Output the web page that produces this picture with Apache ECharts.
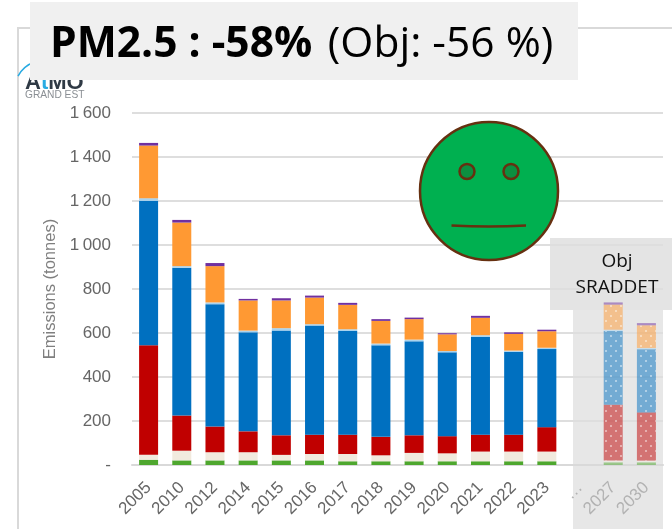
<!DOCTYPE html>
<html>
<head>
<meta charset="utf-8">
<script src="https://cdn.jsdelivr.net/npm/echarts@6/dist/echarts.min.js"></script>
<style>
  html, body { margin: 0; padding: 0; background: #fff; }
  #chart { width: 672px; height: 529px; }
</style>
</head>
<body>
<div id="chart"></div>
<script>
const years = ['2005', '2010', '2012', '2014', '2015', '2016', '2017', '2018', '2019', '2020', '2021', '2022', '2023', '…', '2027', '2030']
const yTickLabels = ['-', '200', '400', '600', '800', '1\u2009000', '1\u2009200', '1\u2009400', '1\u2009600']

// tonnes, bottom of the stack first
const green = [24, 21, 21, 21, 21, 21, 17, 17, 17, 17, 17, 17, 17, null, 12, 12]
const beige = [23, 44, 37, 37, 25, 29, 33, 27, 38, 36, 44, 44, 44, null, 8, 8]
const red = [497, 160, 117, 95, 89, 88, 88, 84, 80, 78, 77, 77, 111, null, 254, 219]
const blue = [657, 672, 556, 450, 476, 496, 471, 416, 427, 381, 444, 377, 355, null, 335, 287]
const lightBlue = [12, 7, 8, 8, 11, 6, 8, 8, 8, 6, 8, 5, 6, null, 6, 6]
const orange = [239, 198, 165, 137, 126, 121, 111, 103, 93, 76, 79, 76, 75, null, 114, 103]
const purple = [12, 12, 14, 7, 10, 9, 9, 8, 7, 5, 9, 7, 7, null, 10, 10]

const firstObj = 13 // a partir de "…" on est dans la zone objectif

const stacks = [
  { data: green, color: '#4ea72e', dotted: false },
  { data: beige, color: '#f1eade', dotted: false },
  { data: red, color: '#c00000', dotted: true },
  { data: blue, color: '#0070c0', dotted: true },
  { data: lightBlue, color: '#a9d3ee', dotted: false },
  { data: orange, color: '#ff9933', dotted: true },
  { data: purple, color: '#7030a0', dotted: false }
]

// pointille des barres objectif
const objDecal = {
  symbol: 'rect',
  symbolSize: 1,
  dashArrayX: [[2, 8], [0, 5, 2, 3]],
  dashArrayY: [2, 3],
  rotation: 0,
  color: 'rgba(255,255,255,0.85)'
}

const series = stacks.map(item => ({
  type: 'bar',
  stack: 'total',
  barWidth: 19,
  silent: true,
  itemStyle: { color: item.color },
  data: item.data.map((value, i) => {
    if (i < firstObj) {
      return value
    }
    let itemStyle = { color: item.color, opacity: 0.5 }
    if (item.dotted) {
      itemStyle.decal = objDecal
    }
    return { value: value, itemStyle: itemStyle }
  })
}))

const option = {
  animation: false,
  backgroundColor: '#fff',
  grid: { left: 132, right: 9, top: 113, bottom: 64 },
  xAxis: {
    type: 'category',
    data: years,
    axisTick: { show: false },
    axisLine: { lineStyle: { color: '#d9d9d9', width: 2 } },
    axisLabel: {
      interval: 0,
      rotate: 45,
      margin: 20,
      color: (value, index) => index < firstObj ? '#666' : '#b2b2b2',
      fontFamily: 'Liberation Sans',
      fontSize: 17
    }
  },
  yAxis: {
    type: 'value',
    min: 0,
    max: 1600,
    interval: 200,
    name: 'Emissions (tonnes)',
    nameLocation: 'middle',
    nameGap: 70,
    nameTextStyle: { color: '#7f7f7f', fontFamily: 'Liberation Sans', fontSize: 16.5 },
    axisLine: { show: false },
    axisTick: { show: false },
    axisLabel: {
      margin: 21,
      color: '#666',
      fontFamily: 'Liberation Sans',
      fontSize: 17,
      formatter: value => yTickLabels[value / 200]
    },
    splitLine: { lineStyle: { color: '#dedede', width: 2 } }
  },
  series: series,
  graphic: [
    // cadre du graphique
    { type: 'polyline', z: -2, shape: { points: [[18, 529], [18, 28], [672, 28]] }, style: { stroke: '#d9d9d9', lineWidth: 2, fill: null } },
    // zone objectif, sous les barres
    { type: 'rect', z: -2, shape: { x: 573, y: 306, width: 90, height: 223 }, style: { fill: '#e7e7e7' } },
    { type: 'rect', z: -1, shape: { x: 550, y: 238, width: 122, height: 72 }, style: { fill: '#e4e4e4' } },
    {
      type: 'text',
      z: 102,
      x: 617,
      y: 249,
      style: { text: 'Obj\nSRADDET', fontFamily: 'Open Sans', fontSize: 19, lineHeight: 26, align: 'center', fill: '#111' }
    },
    // logo
    { type: 'arc', z: 110, shape: { cx: 44, cy: 90, r: 29.5, startAngle: Math.PI * 1.157, endAngle: Math.PI * 1.4 }, style: { stroke: '#29abe2', lineWidth: 1.5, fill: null } },
    {
      type: 'text',
      z: 110,
      x: 25,
      y: 72,
      style: {
        text: '{a|A}{t|t}{a|MO}',
        rich: {
          a: { fontFamily: 'Liberation Sans', fontWeight: 'bold', fontSize: 22, fill: '#2f3a45' },
          t: { fontFamily: 'Liberation Sans', fontWeight: 'bold', fontSize: 22, fill: '#29abe2' }
        }
      }
    },
    { type: 'text', z: 110, x: 25, y: 90, style: { text: 'GRAND EST', fontFamily: 'Liberation Sans', fontSize: 10.2, fill: '#8a8f94' } },
    // titre
    { type: 'rect', z: 120, shape: { x: 30, y: 2, width: 548, height: 78 }, style: { fill: '#f0f0f0' } },
    {
      type: 'text',
      z: 121,
      x: 50,
      y: 23,
      style: {
        text: '{b|PM2.5 : -58%}{s|\u00a0\u00a0}{r|(Obj: -56 %)}',
        rich: {
          b: { fontFamily: 'Open Sans', fontWeight: 'bold', fontSize: 42.5, fill: '#000' },
          s: { fontFamily: 'Open Sans', fontSize: 30 },
          r: { fontFamily: 'Open Sans', fontSize: 42.5, fill: '#000' }
        }
      }
    },
    // smiley
    { type: 'circle', z: 120, shape: { cx: 489, cy: 191, r: 69 }, style: { fill: '#00b050', stroke: '#663010', lineWidth: 2.5 } },
    { type: 'circle', z: 121, shape: { cx: 467, cy: 171.5, r: 7.5 }, style: { fill: '#0c8f40', stroke: '#663010', lineWidth: 2.5 } },
    { type: 'circle', z: 121, shape: { cx: 511, cy: 171.5, r: 7.5 }, style: { fill: '#0c8f40', stroke: '#663010', lineWidth: 2.5 } },
    { type: 'bezierCurve', z: 121, shape: { x1: 451.5, y1: 225.5, cpx1: 489, cpy1: 227.5, x2: 526, y2: 225.5 }, style: { fill: null, stroke: '#663010', lineWidth: 2.5 } }
  ]
}

const myChart = echarts.init(document.getElementById('chart'), null, { renderer: 'canvas' })
myChart.setOption(option)
</script>
</body>
</html>
